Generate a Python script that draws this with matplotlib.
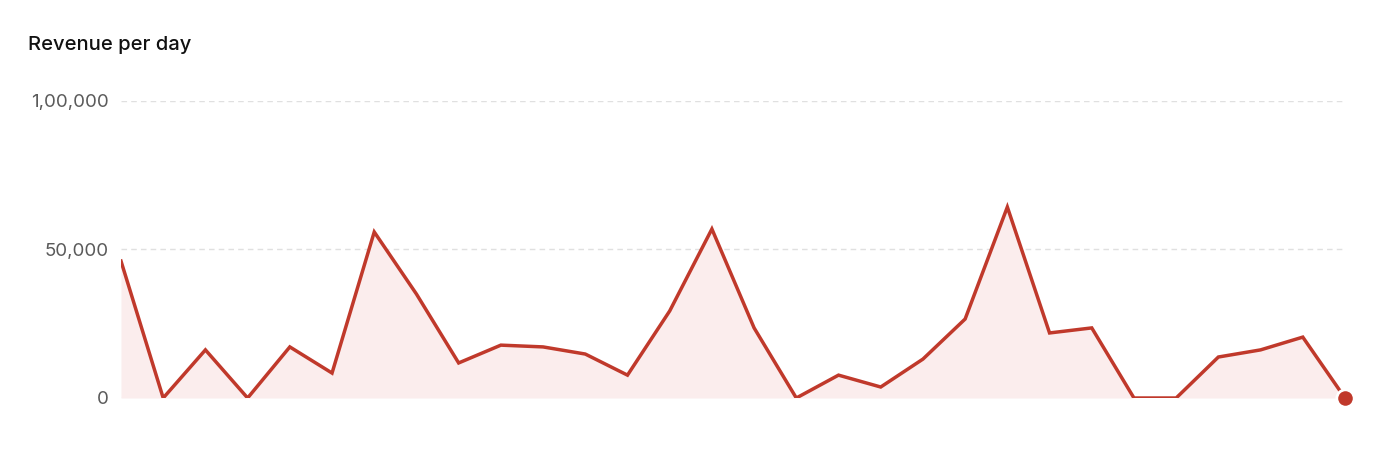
import numpy as np
import matplotlib
matplotlib.use('Agg')
import matplotlib.pyplot as plt

# revenue per day, 30 days
days = list(range(1, 31))
revenue = [46100, 0, 16200, 0, 17200, 8400, 55900, 35000, 11800, 17800,
           17200, 14800, 7700, 29300, 56900, 23600, 0, 7700, 3700, 13100,
           26600, 64300, 21900, 23600, 0, 0, 13800, 16200, 20500, 0]
yticks = [0, 50000, 100000]
ytick_labels = ['0', '50,000', '1,00,000']

red = '#c0392b'
plt.rcParams['font.family'] = ['Inter', 'DejaVu Sans']

W, H = 1400, 472
fig = plt.figure(figsize=(W/100, H/100), dpi=100)
fig.patch.set_facecolor('white')
ax = fig.add_axes([121/W, 74/H, (1345-121)/W, 297/H])

ax.fill_between(days, revenue, 0, color='#fbeded', lw=0, zorder=1)
ax.plot(days, revenue, color=red, lw=2.5, solid_joinstyle='miter', zorder=3)
ax.plot([days[-1]], [revenue[-1]], marker='o', ms=12.5, color=red, mec='white',
        mew=2, clip_on=False, zorder=4)

ax.set_xlim(days[0], days[-1])
ax.set_ylim(0, 100000)
ax.set_yticks(yticks)
ax.set_yticklabels(ytick_labels)
ax.set_xticks([])
ax.tick_params(axis='y', length=0, pad=9, labelsize=13.5, labelcolor='#5a5a5a')
ax.grid(axis='y', color='#e0e0e0', lw=1, ls=(0, (4, 3)), zorder=0)
ax.set_axisbelow(True)
for s in ax.spines.values():
    s.set_visible(False)

fig.text(28/W, 1-45/H, 'Revenue per day', fontsize=14.5, fontweight='medium',
         color='#111111', va='center', ha='left')

plt.savefig('out.png', dpi=100)
